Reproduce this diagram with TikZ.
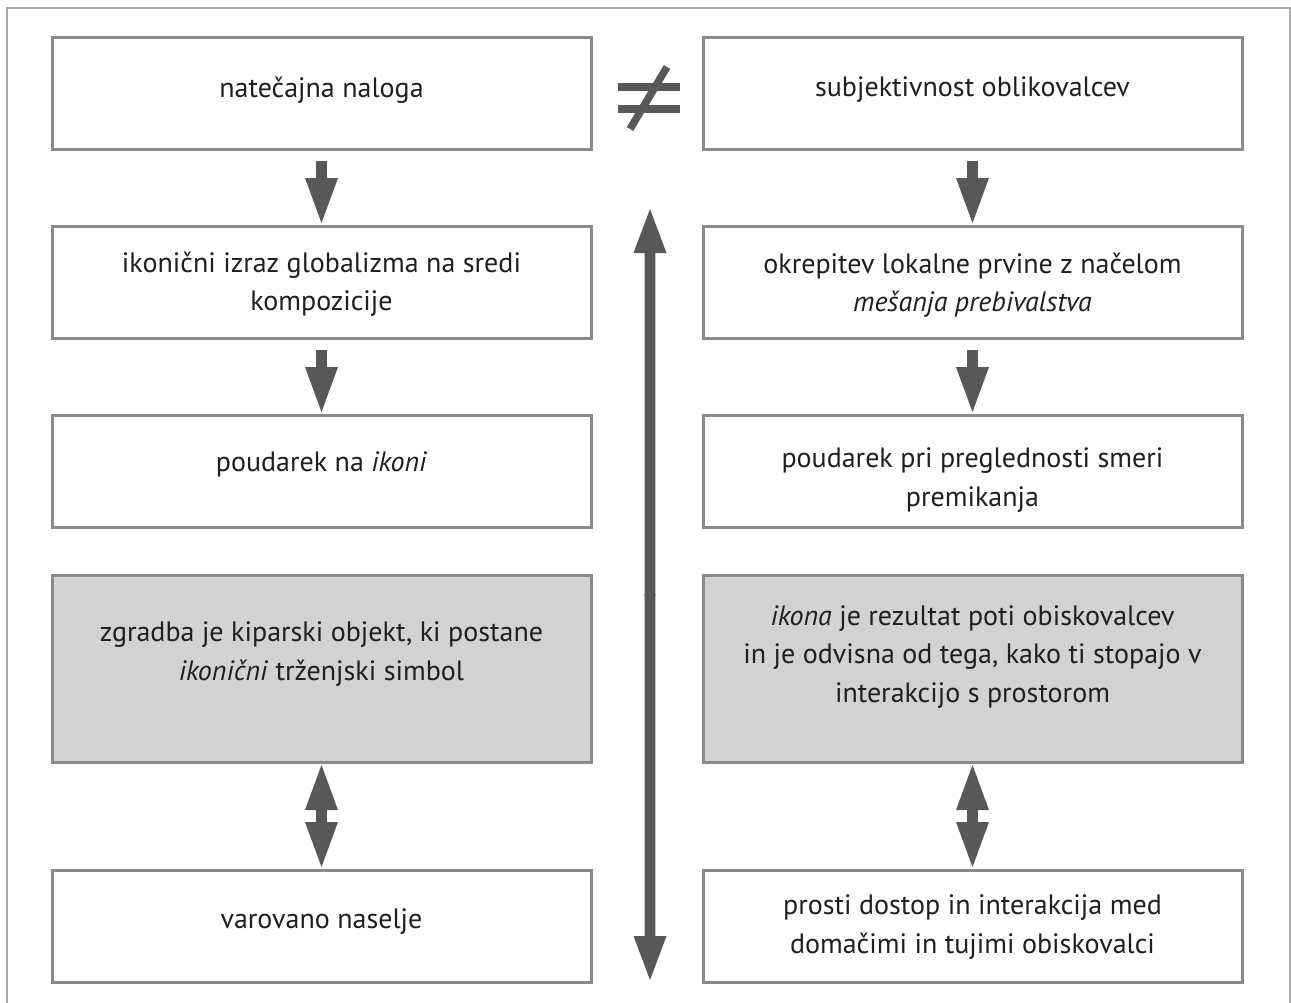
\documentclass[tikz,border=0pt]{standalone}
\usepackage{fontspec}
\setmainfont{PT Sans}
\usetikzlibrary{calc}
\definecolor{boxline}{HTML}{8A8A8D}
\definecolor{arrowc}{HTML}{58585A}
\definecolor{boxfill}{HTML}{D1D2D4}
\definecolor{framec}{HTML}{ABABAB}
\tikzset{
  box/.style={draw=boxline, line width=3pt, minimum width=539pt, minimum height=112pt, inner sep=0pt, outer sep=0pt},
  graybox/.style={box, fill=boxfill, minimum height=187pt},
  txt/.style={align=center, font=\fontsize{28}{38.5}\selectfont, text=black!88},
  arr/.style={fill=arrowc},
  neq/.style={draw=arrowc, line width=7.5pt},
  framel/.style={draw=framec, line width=1.5pt},
}
% #1 start, #2 tip, #3 signed head length in canvas pt
\newcommand\blockarrow[3]{%
  \fill[arr] let \p1=(#1), \p2=(#2) in
    (\x1-5.3pt,\y1) -- (\x1+5.3pt,\y1) -- (\x1+5.3pt,{\y2+(#3pt)}) --
    (\x1+16.5pt,{\y2+(#3pt)}) -- (\x1,\y2) -- (\x1-16.5pt,{\y2+(#3pt)}) --
    (\x1-5.3pt,{\y2+(#3pt)}) -- cycle;}
\begin{document}
\begin{tikzpicture}[x=1pt,y=-1pt]
\useasboundingbox (0,0) rectangle (1291,1002);
% outer frame
\draw[framel] (7,1003) -- (7,8) -- (1290,8) -- (1290,1003);
% left column
\node[box, txt] (l1) at (321.5,93) {};
\node[txt] (l1t) at (321.5,90) {natečajna naloga};
\node[box] (l2) at (321.5,282) {};
\node[txt] (l2t) at (321.5,284) {ikonični izraz globalizma na sredi\\kompozicije};
\node[box] (l3) at (321.5,471) {};
\node[txt] (l3t) at (321.5,464) {poudarek na \textit{ikoni}};
\node[graybox] (l4) at (321.5,668.5) {};
\node[txt] (l4t) at (321.5,654) {zgradba je kiparski objekt, ki postane\\\textit{ikonični} trženjski simbol};
\node[box] (l5) at (321.5,926) {};
\node[txt] (l5t) at (321.5,922) {varovano naselje};
% right column
\node[box] (r1) at (972.5,93) {};
\node[txt] (r1t) at (972.5,90) {subjektivnost oblikovalcev};
\node[box] (r2) at (972.5,282) {};
\node[txt] (r2t) at (972.5,285) {okrepitev lokalne prvine z načelom\\\textit{mešanja prebivalstva}};
\node[box] (r3) at (972.5,471) {};
\node[txt] (r3t) at (972.5,480) {poudarek pri preglednosti smeri\\premikanja};
\node[graybox] (r4) at (972.5,668.5) {};
\node[txt] (r4t) at (972.5,657) {\textit{ikona} je rezultat poti obiskovalcev\\in je odvisna od tega, kako ti stopajo v\\interakcijo s prostorom};
\node[box] (r5) at (972.5,926) {};
\node[txt] (r5t) at (972.5,927) {prosti dostop in interakcija med\\domačimi in tujimi obiskovalci};
% not equal sign
\coordinate (neqc) at (649,98);
\draw[neq] ($(neqc)+(-31,-11)$) -- ($(neqc)+(31,-11)$);
\draw[neq] ($(neqc)+(-31,11)$) -- ($(neqc)+(31,11)$);
\draw[neq] ($(neqc)+(-19,31)$) -- ($(neqc)+(18,-31)$);
% single down arrows
\foreach \a/\b in {l1/l2, l2/l3, r1/r2, r2/r3}{
  \coordinate (s) at ($(\a.south)+(0,12)$);
  \coordinate (t) at ($(\b.north)+(0,-3)$);
  \blockarrow{s}{t}{45}
}
% double arrows
\foreach \a/\b in {l4/l5, r4/r5}{
  \coordinate (m) at ($(\a.south)!0.5!(\b.north)$);
  \coordinate (t1) at ($(\a.south)+(0,3)$);
  \coordinate (t2) at ($(\b.north)+(0,-3)$);
  \coordinate (m1) at ($(m)+(0,1)$);
  \coordinate (m2) at ($(m)+(0,-1)$);
  \blockarrow{m1}{t1}{-45}
  \blockarrow{m2}{t2}{45}
}
% big vertical double arrow
\coordinate (bt) at (650,209);
\coordinate (bb) at (650,980);
\coordinate (bm1) at (650,596);
\coordinate (bm2) at (650,594);
\blockarrow{bm1}{bt}{-44}
\blockarrow{bm2}{bb}{44}
\end{tikzpicture}
\end{document}
